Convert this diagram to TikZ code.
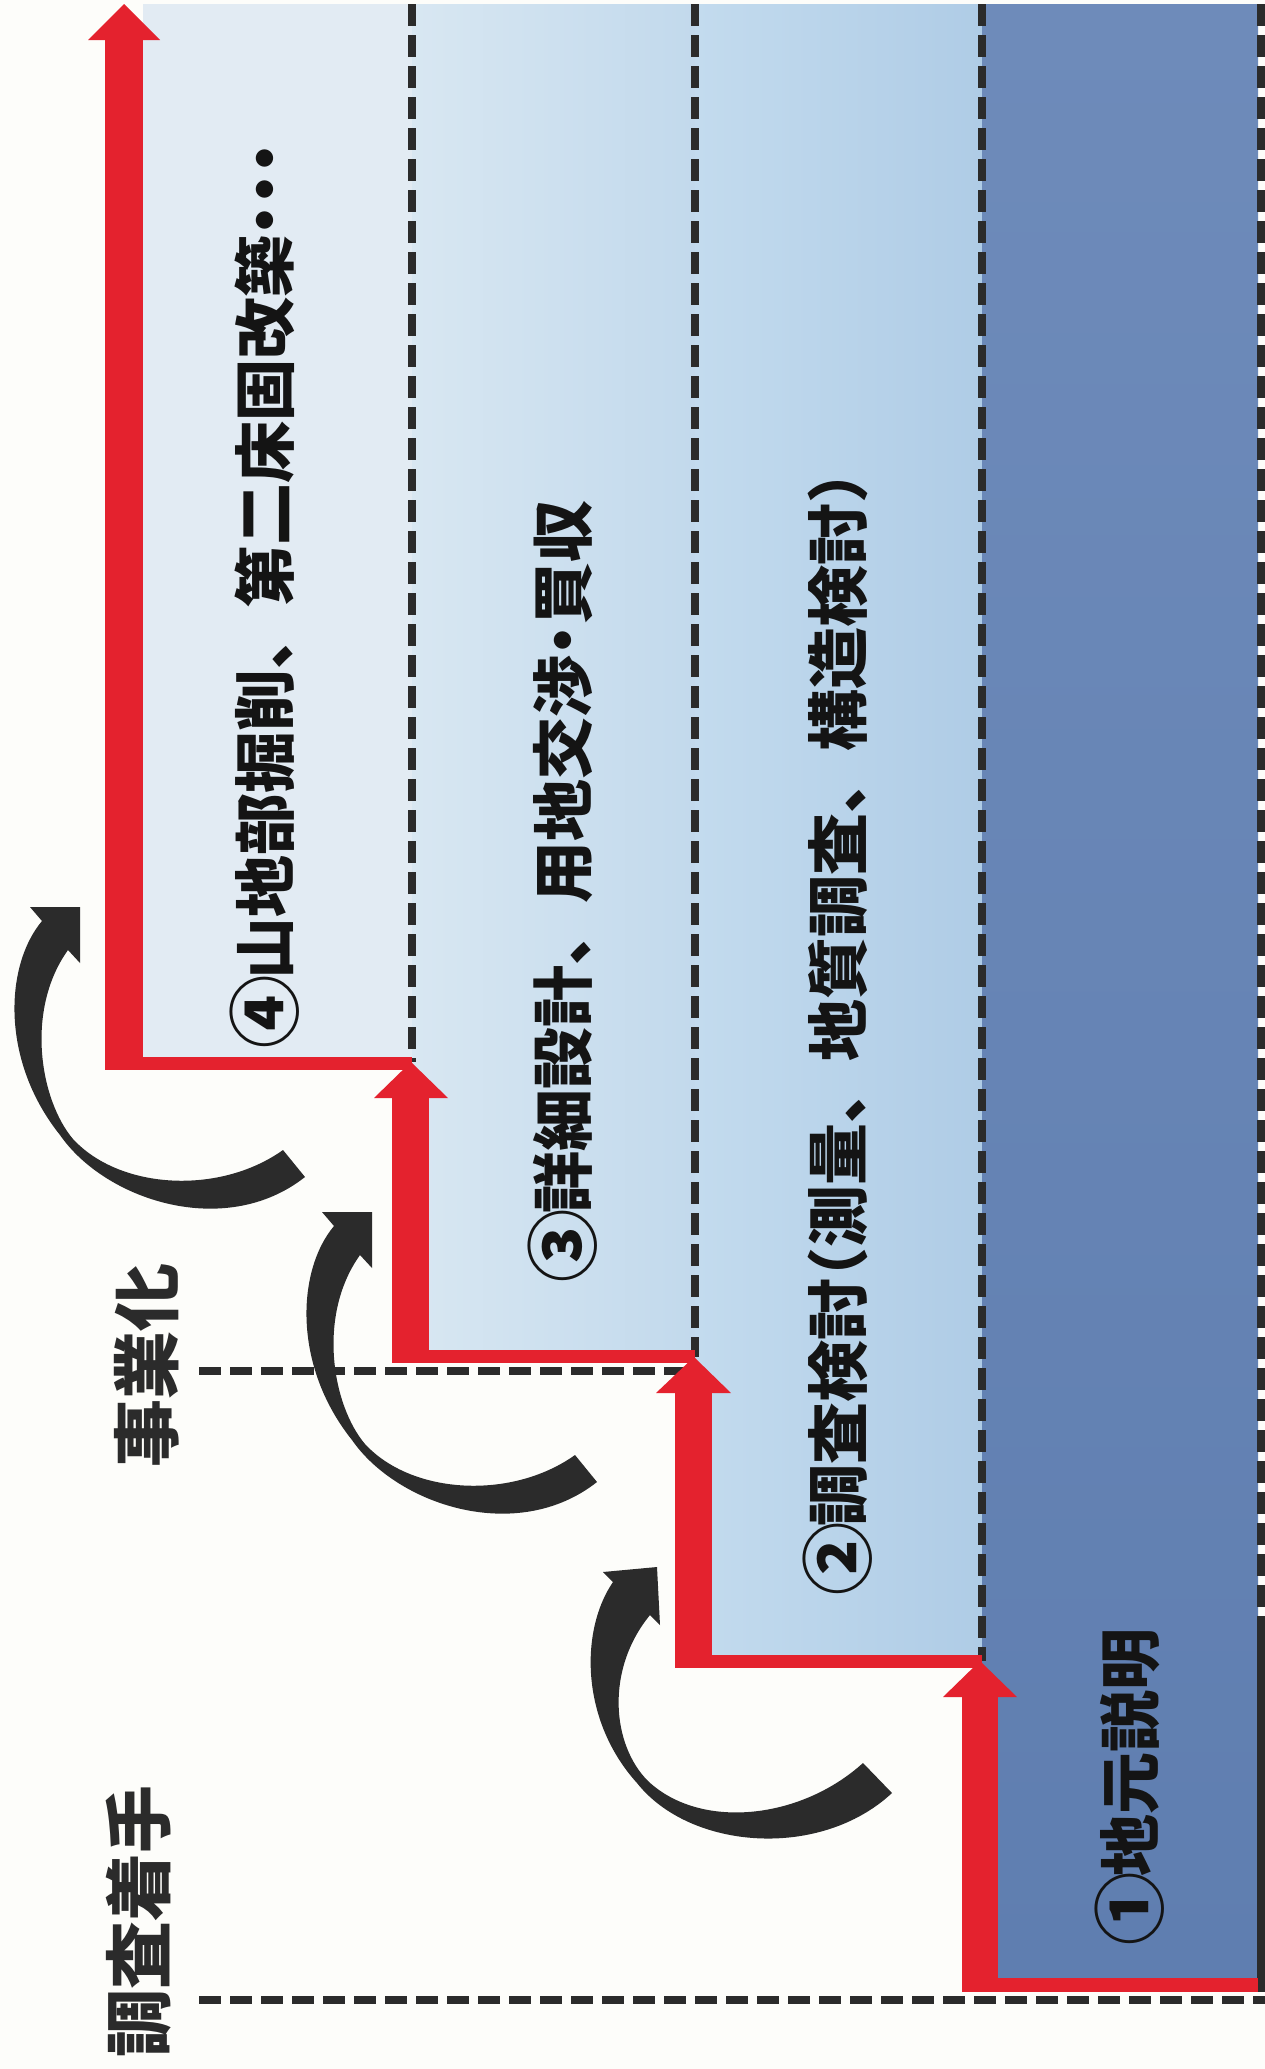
\documentclass[tikz,border=0pt]{standalone}
\usepackage{fontspec}
\newfontfamily\jp{Noto Sans CJK JP}
\definecolor{paper}{HTML}{FDFDFA}
\definecolor{redline}{HTML}{E4222E}
\definecolor{colA}{HTML}{E2EBF3}
\definecolor{colBa}{HTML}{D8E7F2}
\definecolor{colBb}{HTML}{C2D9EC}
\definecolor{colCa}{HTML}{C3DBEE}
\definecolor{colCb}{HTML}{AFCCE6}
\definecolor{colDa}{HTML}{6E8BBA}
\definecolor{colDb}{HTML}{5F7EB0}
\definecolor{ink}{HTML}{2B2B2B}
\newcommand\hdot{\makebox[0.5em][c]{・}}
\newcommand\lpar{\makebox[0.5em][r]{（}}
\newcommand\rpar{\makebox[0.5em][l]{）}}
\newcommand\cnum[1]{\makebox[1.05em][c]{\raisebox{-0.07em}{\scalebox{1.18}{#1}}}}
\tikzset{
  dashline/.style={draw=ink, line width=8pt, dash pattern=on 22pt off 9pt},
  redfill/.style={fill=redline},
  swoosh/.style={fill=ink},
  steptext/.style={rotate=90, inner sep=0pt, anchor=west, text=black!92,
    font=\jp\bfseries\fontsize{62}{62}\selectfont},
  sidetext/.style={rotate=90, inner sep=0pt, anchor=west, text=ink,
    font=\jp\bfseries\fontsize{68}{68}\selectfont}
}
\begin{document}
\begin{tikzpicture}[x=1pt,y=-1pt]
\useasboundingbox (0,0) rectangle (1265,2069);
\fill[paper] (0,0) rectangle (1265,2069);
% columns
\fill[colA] (143,4) rectangle (412,1058);
\shade[left color=colBa,right color=colBb] (412,4) rectangle (695,1350);
\shade[left color=colCa,right color=colCb] (695,4) rectangle (982,1656);
\shade[top color=colDa,bottom color=colDb] (982,4) rectangle (1258,1979);
% dashed guide lines
\coordinate (d4top) at (412,4);
\coordinate (d4end) at (412,1062);
\coordinate (d3top) at (695,4);
\coordinate (d3end) at (695,1357);
\coordinate (d2top) at (982,4);
\coordinate (d2end) at (982,1661);
\draw[dashline] (d4top) -- (d4end);
\draw[dashline] (d3top) -- (d3end);
\draw[dashline] (d2top) -- (d2end);
\coordinate (jstart) at (199,1371);
\coordinate (jend) at (690,1371);
\draw[dashline] (jstart) -- (jend);
\coordinate (cstart) at (199,2000);
\coordinate (cend) at (1265,2000);
\draw[dashline] (cstart) -- (cend);
% right edge bar
\draw[draw=ink, line width=8pt, dash pattern=on 22pt off 9pt] (1261,4) -- (1261,1627);
\fill[ink] (1257,1627) rectangle (1265,1992);
% red staircase
\fill[redfill] (105,40) rectangle (143,1070);
\fill[redfill] (105,1057) rectangle (412,1070);
\fill[redfill] (88,40) -- (124,4) -- (160,40) -- cycle;
\fill[redfill] (392,1098) rectangle (429,1363);
\fill[redfill] (392,1350) rectangle (695,1363);
\fill[redfill] (374,1098) -- (411,1062) -- (448,1098) -- cycle;
\fill[redfill] (675,1393) rectangle (712,1668);
\fill[redfill] (675,1655) rectangle (982,1668);
\fill[redfill] (656,1393) -- (694,1357) -- (731,1393) -- cycle;
\fill[redfill] (962,1697) rectangle (998,1992);
\fill[redfill] (962,1978) rectangle (1258,1992);
\fill[redfill] (943,1697) -- (980,1661) -- (1017,1697) -- cycle;
% black curved arrows
\fill[swoosh] (42,921) -- (30,907) -- (80,907) -- (80,963) -- (68,950)
  .. controls (25,1010) and (40,1100) .. (73,1139)
  .. controls (120,1190) and (220,1195) .. (283,1150)
  -- (305,1177)
  .. controls (225,1240) and (105,1200) .. (60,1135)
  .. controls (0,1060) and (5,965) .. (42,921) -- cycle;
\begin{scope}[shift={(292,305)}]
\fill[swoosh] (42,921) -- (30,907) -- (80,907) -- (80,963) -- (68,950)
  .. controls (25,1010) and (40,1100) .. (73,1139)
  .. controls (120,1190) and (220,1195) .. (283,1150)
  -- (305,1177)
  .. controls (225,1240) and (105,1200) .. (60,1135)
  .. controls (0,1060) and (5,965) .. (42,921) -- cycle;
\end{scope}
\fill[swoosh] (613,1582) -- (603,1572) -- (657,1567) -- (660,1625) -- (650,1615)
  .. controls (605,1670) and (612,1745) .. (648,1781)
  .. controls (700,1830) and (800,1820) .. (863,1763)
  -- (892,1793)
  .. controls (820,1860) and (690,1850) .. (637,1783)
  .. controls (580,1720) and (580,1630) .. (613,1582) -- cycle;
% texts
\node[steptext] (t4) at (265,1045) {\cnum{④}山地部掘削、第二床固改築\hdot\hdot\hdot};
\node[steptext] (t3) at (563,1279) {\cnum{③}詳細設計、用地交渉\hdot 買収};
\node[steptext] (t2) at (838,1592) {\cnum{②}調査検討\lpar 測量、地質調査、構造検討\rpar};
\node[steptext] (t1) at (1130,1942) {\cnum{①}地元説明};
\node[sidetext] (jigyo) at (147,1468) {事業化};
\node[sidetext] (chosa) at (139,2058) {調査着手};
\end{tikzpicture}
\end{document}
